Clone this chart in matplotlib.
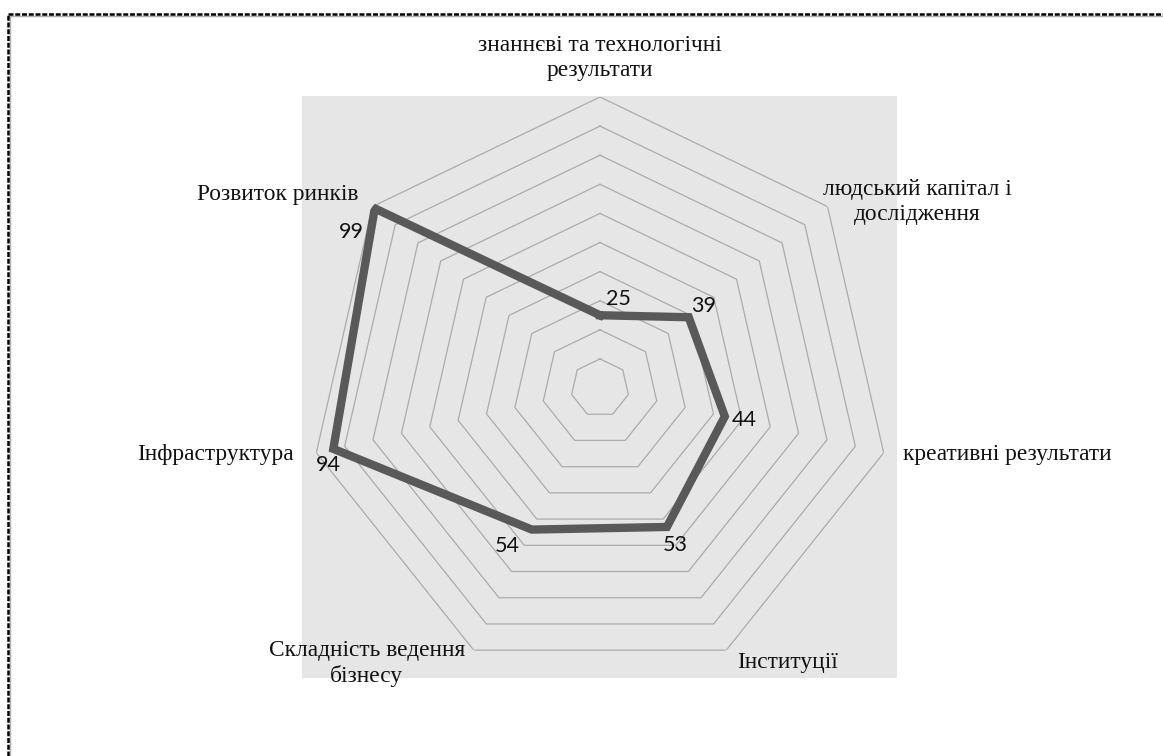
import numpy as np
import matplotlib
matplotlib.use("Agg")
import matplotlib.pyplot as plt
from matplotlib.patches import Rectangle
from matplotlib.lines import Line2D

# ---- data ----
categories = [
    "знаннєві та технологічні\nрезультати",
    "людський капітал і\nдослідження",
    "креативні результати",
    "Інституції",
    "Складність ведення\nбізнесу",
    "Інфраструктура",
    "Розвиток ринків",
]
values = [25, 39, 44, 53, 54, 94, 99]
grid_levels = [10, 20, 30, 40, 50, 60, 70, 80, 90, 100]

# ---- style / layout (pixel offsets for labels) ----
cat_offsets = [(0, 39, "center"), (90, 5, "center"), (19, -2, "left"),
               (61, -12, "center"), (-107, -13, "center"), (-22, -2, "right"),
               (-14, 12, "right")]
val_offsets = [(18, 16), (15, 11), (19, -4), (8, -18), (-25, -16), (-5, -16), (-23, -24)]

W, H = 1163, 756
fig = plt.figure(figsize=(W / 100, H / 100), dpi=100)
fig.patch.set_facecolor("white")

# grey plot-area background
fig.add_artist(Rectangle((302 / W, 1 - 678 / H), 595 / W, 582 / H,
                         transform=fig.transFigure, facecolor="#e6e6e6",
                         edgecolor="none", zorder=-5))

# dotted border (top and left)
fig.add_artist(Line2D([9 / W, 1], [1 - 15.5 / H, 1 - 15.5 / H], transform=fig.transFigure,
                      color="#b0b0b0", lw=1.0, zorder=-4))
fig.add_artist(Line2D([9.5 / W, 9.5 / W], [0, 1 - 14 / H], transform=fig.transFigure,
                      color="#b0b0b0", lw=1.0, zorder=-4))
fig.add_artist(Line2D([8 / W, 1], [1 - 14 / H, 1 - 14 / H], transform=fig.transFigure,
                      color="black", lw=1.8, linestyle=(0, (2.0, 0.7)), zorder=-3))
fig.add_artist(Line2D([8 / W, 8 / W], [0, 1 - 14 / H], transform=fig.transFigure,
                      color="black", lw=1.8, linestyle=(0, (2.0, 0.7)), zorder=-3))

cx, cy, R = 600, 388, 291
ax = fig.add_axes([(cx - R) / W, 1 - (cy + R) / H, 2 * R / W, 2 * R / H], projection="polar")
ax.set_facecolor("none")
ax.set_theta_offset(np.pi / 2)
ax.set_theta_direction(-1)
ax.set_ylim(0, 100)
ax.grid(False)
ax.set_xticks([])
ax.set_yticks([])
ax.spines["polar"].set_visible(False)

n = len(categories)
theta = np.arange(n) * 2 * np.pi / n
theta_c = np.append(theta, theta[0])

for lvl in grid_levels:
    ax.plot(theta_c, [lvl] * (n + 1), color="#ababab", lw=0.9, zorder=1)

vals_c = values + [values[0]]
ax.plot(theta_c, vals_c, color="#595959", lw=6.0, solid_joinstyle="miter", zorder=3)

for i, (cat, (dx, dy, ha)) in enumerate(zip(categories, cat_offsets)):
    ax.annotate(cat, xy=(theta[i], 100), xytext=(dx * 0.72, dy * 0.72),
                textcoords="offset points", ha=ha, va="center",
                multialignment="center", family="Liberation Serif",
                fontsize=16.8, color="#111111", linespacing=1.25,
                annotation_clip=False)

for i, (v, (dx, dy)) in enumerate(zip(values, val_offsets)):
    ax.annotate(str(v), xy=(theta[i], v), xytext=(dx * 0.72, dy * 0.72),
                textcoords="offset points", ha="center", va="center",
                family="Lato", fontsize=15.5, color="#111111", zorder=4,
                annotation_clip=False)

fig.savefig("out.png", dpi=100)
